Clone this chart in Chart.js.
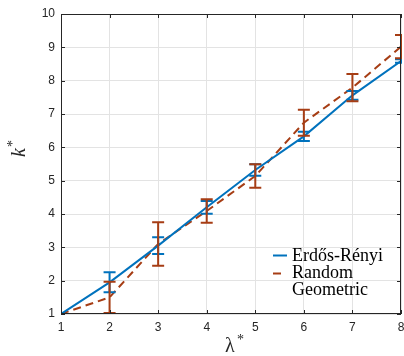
<!DOCTYPE html>
<html>
<head>
<meta charset="utf-8">
<script src="https://cdn.jsdelivr.net/npm/chart.js@4.4.1/dist/chart.umd.min.js"></script>
<style>
  html, body { margin: 0; padding: 0; background: #fff; }
  #wrap { width: 404px; height: 356px; }
</style>
</head>
<body>
<div id="wrap"><canvas id="chart" width="404" height="356"></canvas></div>
<script>
// lambda* values
const lambdas = [1, 2, 3, 4, 5, 6, 7, 8];
// Erdős-Rényi mean k* and error
const erMean = [1.0, 1.95, 3.05, 4.2, 5.32, 6.33, 7.56, 8.59];
const erErr = [0.0, 0.3, 0.25, 0.19, 0.17, 0.14, 0.13, 0.05];
// Random Geometric mean k* and error
const rgMean = [1.0, 1.5, 3.1, 4.09, 5.14, 6.74, 7.79, 9.02];
const rgErr = [0.0, 0.47, 0.65, 0.35, 0.35, 0.39, 0.41, 0.35];
const yTicks = [1, 2, 3, 4, 5, 6, 7, 8, 9, 10];

const blue = '#0072BD';
const red = '#A63D14';
const axisColor = '#262626';

const toPts = (xs, ys) => xs.map((x, i) => ({ x: x, y: ys[i] }));

// error bars, inward ticks, box, labels and legend
const extras = {
    id: 'extras',
    afterDatasetsDraw(chart) {
        const ctx = chart.ctx;
        const xs = chart.scales.x, ys = chart.scales.y;
        const area = chart.chartArea;
        ctx.save();
        ctx.beginPath();
        ctx.rect(area.left, area.top - 1, area.right - area.left + 1, area.bottom - area.top + 1);
        ctx.clip();
        const bars = [[erMean, erErr, blue], [rgMean, rgErr, red]];
        bars.forEach(([m, e, c]) => {
            ctx.strokeStyle = c;
            ctx.lineWidth = 2;
            lambdas.forEach((l, i) => {
                if (e[i] <= 0) return;
                const px = xs.getPixelForValue(l);
                const top = ys.getPixelForValue(m[i] + e[i]);
                const bot = ys.getPixelForValue(m[i] - e[i]);
                ctx.beginPath();
                ctx.moveTo(px, top); ctx.lineTo(px, bot);
                ctx.moveTo(px - 6, top); ctx.lineTo(px + 6, top);
                ctx.moveTo(px - 6, bot); ctx.lineTo(px + 6, bot);
                ctx.stroke();
            });
        });
        ctx.restore();

        // box and inward ticks
        ctx.save();
        ctx.strokeStyle = axisColor;
        ctx.lineWidth = 1;
        ctx.strokeRect(area.left + 0.5, area.top + 0.5, area.right - area.left - 1, area.bottom - area.top - 1);
        ctx.beginPath();
        lambdas.forEach(l => {
            const px = Math.round(xs.getPixelForValue(l)) + 0.5;
            ctx.moveTo(px, area.bottom); ctx.lineTo(px, area.bottom - 4);
            ctx.moveTo(px, area.top); ctx.lineTo(px, area.top + 4);
        });
        yTicks.forEach(t => {
            const py = Math.round(ys.getPixelForValue(t)) + 0.5;
            ctx.moveTo(area.left, py); ctx.lineTo(area.left + 4, py);
            ctx.moveTo(area.right, py); ctx.lineTo(area.right - 4, py);
        });
        ctx.stroke();

        // axis titles
        ctx.fillStyle = axisColor;
        ctx.textBaseline = 'alphabetic';
        ctx.save();
        ctx.translate(25, 149);
        ctx.rotate(-Math.PI / 2);
        ctx.font = 'italic 20px "Liberation Serif", serif';
        ctx.textAlign = 'left';
        ctx.fillText('k', -8, 0);
        ctx.font = '14px "Liberation Serif", serif';
        ctx.fillText('*', 2, -8);
        ctx.restore();
        ctx.font = '20px "Liberation Serif", serif';
        ctx.textAlign = 'left';
        ctx.fillText('λ', 225, 352);
        ctx.font = '14px "Liberation Serif", serif';
        ctx.fillText('*', 237, 344);

        // legend
        ctx.font = '18px "Liberation Serif", serif';
        ctx.fillStyle = '#000';
        ctx.textBaseline = 'middle';
        ctx.lineWidth = 2;
        ctx.strokeStyle = blue;
        ctx.beginPath(); ctx.moveTo(273, 255.5); ctx.lineTo(287, 255.5); ctx.stroke();
        ctx.strokeStyle = red;
        ctx.beginPath(); ctx.moveTo(273, 273.5); ctx.lineTo(281, 273.5); ctx.stroke();
        ctx.fillText('Erdős-Rényi', 292, 256);
        ctx.fillText('Random', 292, 273);
        ctx.fillText('Geometric', 292, 290);
        ctx.restore();
    }
};

new Chart(document.getElementById('chart').getContext('2d'), {
    type: 'line',
    data: {
        datasets: [
            {
                label: 'Erdős-Rényi',
                data: toPts(lambdas, erMean),
                borderColor: blue,
                borderWidth: 2,
                pointRadius: 0,
                tension: 0
            },
            {
                label: 'Random Geometric',
                data: toPts(lambdas, rgMean),
                borderColor: red,
                borderWidth: 2,
                borderDash: [8, 5],
                pointRadius: 0,
                tension: 0
            }
        ]
    },
    options: {
        responsive: false,
        animation: false,
        devicePixelRatio: 1,
        layout: { padding: { top: 14, right: 3, left: 0, bottom: 0 } },
        plugins: { legend: { display: false }, tooltip: { enabled: false } },
        scales: {
            x: {
                type: 'linear',
                min: 1,
                max: 8,
                afterFit: s => { s.height = 42; s.paddingLeft = 0; s.paddingRight = 0; },
                afterBuildTicks: s => { s.ticks = lambdas.map(v => ({ value: v })); },
                grid: { color: '#e3e3e3', drawTicks: false },
                border: { display: false },
                ticks: {
                    padding: 6,
                    color: axisColor,
                    font: { family: '"Liberation Sans", Arial, sans-serif', size: 12 }
                }
            },
            y: {
                type: 'linear',
                min: 1,
                max: 10,
                afterFit: s => { s.width = 61; s.paddingTop = 0; s.paddingBottom = 0; },
                afterBuildTicks: s => { s.ticks = yTicks.map(v => ({ value: v })); },
                grid: { color: '#e3e3e3', drawTicks: false },
                border: { display: false },
                ticks: {
                    padding: 6,
                    color: axisColor,
                    font: { family: '"Liberation Sans", Arial, sans-serif', size: 12 }
                }
            }
        }
    },
    plugins: [extras]
});
</script>
</body>
</html>
